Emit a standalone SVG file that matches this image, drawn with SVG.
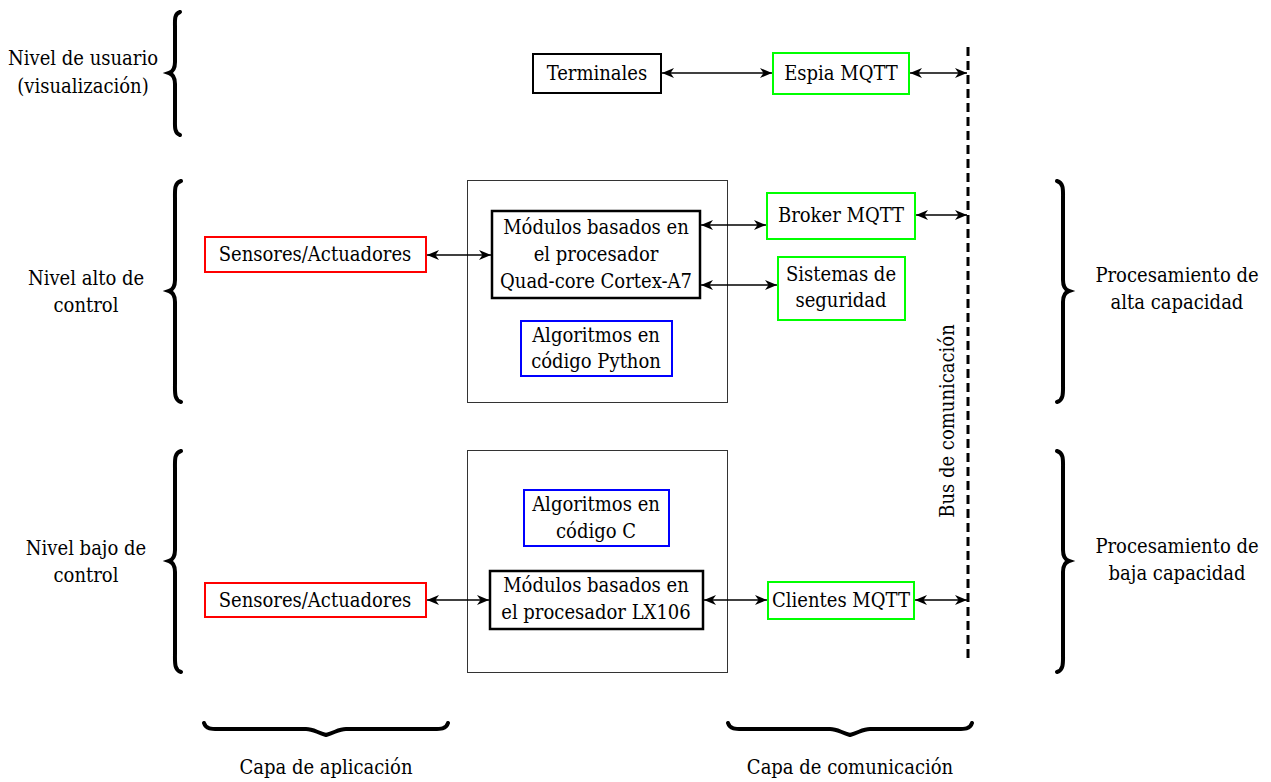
<svg xmlns="http://www.w3.org/2000/svg" width="1271" height="782" viewBox="0 0 1271 782">
<defs>
<style>
text{font-family:"DejaVu Serif","Liberation Serif",serif;font-stretch:condensed;font-size:20px;fill:#000;text-anchor:middle}
.node{fill:#fff;stroke-width:2}
.blk{stroke:#000}
.thick{stroke:#000;stroke-width:2.5}
.grn{stroke:#00ff00}
.red{stroke:#ff0000}
.blu{stroke:#0000ff}
.grp{fill:none;stroke:#333;stroke-width:1}
.con{stroke:#000;stroke-width:1.6;fill:none;marker-start:url(#ah);marker-end:url(#ah)}
.brace{fill:none;stroke:#000;stroke-width:4;stroke-linecap:round}
</style>
<marker id="ah" viewBox="0 0 12 10" refX="12" refY="5" markerWidth="12" markerHeight="10" markerUnits="userSpaceOnUse" orient="auto-start-reverse">
<path d="M0,0 L12,5 L0,10 L3.5,5 z" fill="#000"/>
</marker>
</defs>

<g id="braces">
<path class="brace" d="M180 12 C174 14,175 20,175 28 L175 62 C175 69,172 72,169 73 C172 74,175 77,175 84 L175 118 C175 126,174 133,180 135"/>
<path class="brace" d="M181 181 C174 183,175 190,175 200 L175 280 C175 287,172 290,169 291 C172 292,175 295,175 302 L175 382 C175 392,174 400,181 402"/>
<path class="brace" d="M181 451 C174 453,175 460,175 470 L175 550 C175 557,172 560,169 561 C172 562,175 565,175 572 L175 652 C175 662,174 670,181 672"/>
<path class="brace" d="M1057 181 C1064 183,1063 190,1063 200 L1063 280 C1063 287,1066 290,1069 291 C1066 292,1063 295,1063 302 L1063 382 C1063 392,1064 400,1057 402"/>
<path class="brace" d="M1057 451 C1064 453,1063 460,1063 470 L1063 550 C1063 557,1066 560,1069 561 C1066 562,1063 565,1063 572 L1063 652 C1063 662,1064 670,1057 672"/>
<path class="brace" d="M204 723 C206 730,213 729,223 729 L306 729 C313 729,316 732,326 735 C336 732,339 729,346 729 L429 729 C439 729,446 730,448 723"/>
<path class="brace" d="M728 723 C730 730,737 729,747 729 L830 729 C837 729,840 732,850 735 C860 732,863 729,870 729 L953 729 C963 729,970 730,972 723"/>
</g>

<g id="labels">
<text x="83" y="65">Nivel de usuario</text>
<text x="83" y="93">(visualización)</text>
<text x="86" y="285">Nivel alto de</text>
<text x="86" y="312">control</text>
<text x="86" y="555">Nivel bajo de</text>
<text x="86" y="582">control</text>
<text x="1177" y="282">Procesamiento de</text>
<text x="1177" y="309">alta capacidad</text>
<text x="1177" y="553">Procesamiento de</text>
<text x="1177" y="580">baja capacidad</text>
<text x="326" y="774">Capa de aplicación</text>
<text x="850" y="774">Capa de comunicación</text>
<text transform="translate(954 421) rotate(-90)">Bus de comunicación</text>
</g>

<g id="groups">
<rect id="grupo-alto" class="grp" x="467.5" y="180.5" width="260" height="222"/>
<rect id="grupo-bajo" class="grp" x="467.5" y="450.5" width="260" height="222"/>
</g>

<g id="bus">
<line x1="968" y1="47" x2="968" y2="658" stroke="#000" stroke-width="3" stroke-dasharray="9,5"/>
</g>

<g id="connectors">
<line class="con" x1="662" y1="73" x2="772" y2="73"/>
<line class="con" x1="910" y1="73" x2="967" y2="73"/>
<line class="con" x1="427" y1="255" x2="491" y2="255"/>
<line class="con" x1="701" y1="225" x2="766" y2="225"/>
<line class="con" x1="701" y1="285" x2="777" y2="285"/>
<line class="con" x1="916" y1="215" x2="967" y2="215"/>
<line class="con" x1="427" y1="600" x2="489" y2="600"/>
<line class="con" x1="704" y1="600" x2="767" y2="600"/>
<line class="con" x1="915" y1="600" x2="967" y2="600"/>
</g>

<g id="terminales">
<rect class="node blk" x="533" y="54" width="128" height="39"/>
<text x="597" y="80">Terminales</text>
</g>
<g id="espia">
<rect class="node grn" x="773" y="53" width="136" height="41"/>
<text x="841" y="80">Espia MQTT</text>
</g>
<g id="broker">
<rect class="node grn" x="767" y="193" width="148" height="46"/>
<text x="841" y="222">Broker MQTT</text>
</g>
<g id="sistemas">
<rect class="node grn" x="778" y="257" width="127" height="63"/>
<text x="841" y="281">Sistemas de</text>
<text x="841" y="307">seguridad</text>
</g>
<g id="modulos-a7">
<rect class="node thick" x="492" y="211" width="208" height="87"/>
<text x="596" y="234">Módulos basados en</text>
<text x="596" y="261">el procesador</text>
<text x="596" y="288">Quad-core Cortex-A7</text>
</g>
<g id="python">
<rect class="node blu" x="521" y="321" width="151" height="55"/>
<text x="596" y="342">Algoritmos en</text>
<text x="596" y="368">código Python</text>
</g>
<g id="sensores-alto">
<rect class="node red" x="205" y="237" width="221" height="35"/>
<text x="315" y="261">Sensores/Actuadores</text>
</g>
<g id="codigo-c">
<rect class="node blu" x="524" y="490" width="145" height="56"/>
<text x="596" y="511">Algoritmos en</text>
<text x="596" y="538">código C</text>
</g>
<g id="modulos-lx106">
<rect class="node thick" x="490" y="571" width="213" height="58"/>
<text x="596" y="592">Módulos basados en</text>
<text x="596" y="619">el procesador LX106</text>
</g>
<g id="sensores-bajo">
<rect class="node red" x="205" y="583" width="221" height="34"/>
<text x="315" y="607">Sensores/Actuadores</text>
</g>
<g id="clientes">
<rect class="node grn" x="768" y="582" width="146" height="37"/>
<text x="841" y="607">Clientes MQTT</text>
</g>
</svg>
